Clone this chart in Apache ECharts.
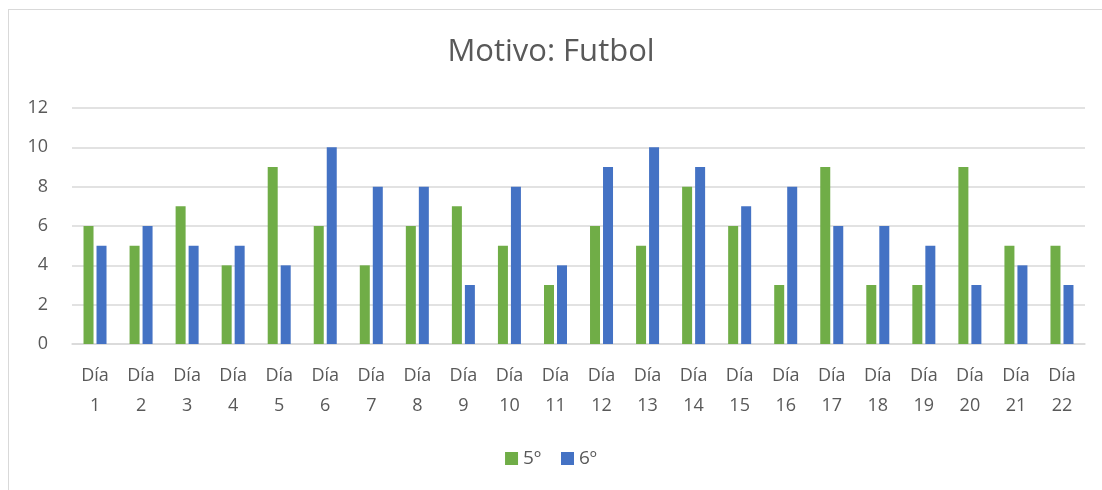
<!DOCTYPE html>
<html>
<head>
<meta charset="utf-8">
<script src="https://cdn.jsdelivr.net/npm/echarts@6/dist/echarts.min.js"></script>
<style>
  html, body { margin: 0; padding: 0; background: #fff; }
  .frame { position: absolute; left: 8px; top: 9px; width: 1200px; height: 600px; border: 1px solid #d9d9d9; }
  #chart { position: absolute; left: 0; top: 0; width: 1102px; height: 490px; }
</style>
</head>
<body>
<div class="frame"></div>
<div id="chart"></div>
<script>
  // datos por día
  var categories = ['Día\n1','Día\n2','Día\n3','Día\n4','Día\n5','Día\n6','Día\n7','Día\n8','Día\n9','Día\n10','Día\n11',
    'Día\n12','Día\n13','Día\n14','Día\n15','Día\n16','Día\n17','Día\n18','Día\n19','Día\n20','Día\n21','Día\n22'];
  var quinto = [6, 5, 7, 4, 9, 6, 4, 6, 7, 5, 3, 6, 5, 8, 6, 3, 9, 3, 3, 9, 5, 5];
  var sexto  = [5, 6, 5, 5, 4, 10, 8, 8, 3, 8, 4, 9, 10, 9, 7, 8, 6, 6, 5, 3, 4, 3];
  var yTicks = [0, 2, 4, 6, 8, 10, 12];

  var font = '"Open Sans", "Liberation Sans", sans-serif';
  var myChart = echarts.init(document.getElementById('chart'));
  var option = {
    animation: false,
    color: ['#70ad47', '#4472c4'],
    title: {
      text: 'Motivo: Futbol',
      left: 'center',
      top: 32,
      textStyle: { fontFamily: font, fontSize: 31, fontWeight: 'normal', color: '#595959' }
    },
    legend: {
      bottom: 17,
      left: 'center',
      itemWidth: 13,
      itemHeight: 13,
      itemGap: 20,
      icon: 'rect',
      textStyle: { fontFamily: font, fontSize: 19, color: '#595959' },
      data: ['5º', '6º']
    },
    grid: { left: 72, right: 17, top: 108, bottom: 146 },
    xAxis: {
      type: 'category',
      data: categories,
      axisLine: { lineStyle: { color: '#d9d9d9', width: 1.5 } },
      axisTick: { show: false },
      axisLabel: { fontFamily: font, fontSize: 18, color: '#595959', lineHeight: 30, margin: 17, interval: 0 }
    },
    yAxis: {
      type: 'value',
      min: yTicks[0],
      max: yTicks[yTicks.length - 1],
      interval: 2,
      axisLine: { show: false },
      axisTick: { show: false },
      splitLine: { lineStyle: { color: '#d9d9d9', width: 1.5 } },
      axisLabel: { fontFamily: font, fontSize: 18, color: '#595959', margin: 24 }
    },
    series: [
      { name: '5º', type: 'bar', data: quinto, barWidth: 10, barGap: '30%' },
      { name: '6º', type: 'bar', data: sexto, barWidth: 10, barGap: '30%' }
    ]
  };
  myChart.setOption(option);
</script>
</body>
</html>
